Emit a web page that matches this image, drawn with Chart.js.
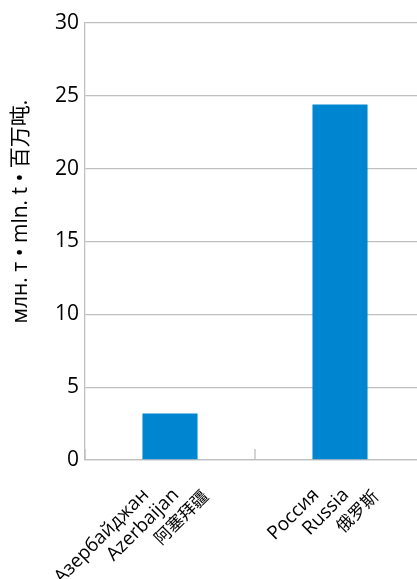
<!DOCTYPE html>
<html>
<head>
<meta charset="utf-8">
<script src="https://cdn.jsdelivr.net/npm/chart.js@4"></script>
<style>
  html, body { margin: 0; padding: 0; background: #fff; overflow: hidden; }
  #wrap { width: 425px; height: 579px; }
</style>
</head>
<body>
<div id="wrap"><canvas id="myChart"></canvas></div>
<script>
// data
var countries = [
    ["Азербайджан", "Azerbaijan", "阿塞拜疆"],
    ["Россия", "Russia", "俄罗斯"]
];
var volumes = [3.2, 24.4];
var yTitle = "млн. т • mln. t • 百万吨.";
var yMin = 0, yMax = 30, yStep = 5;

var FONT = "'Open Sans', 'Noto Sans CJK SC', sans-serif";
var GRID = "#bfbfbf";

// tick marks between categories, pointing up into the plot
var innerTicks = {
    id: 'innerTicks',
    afterDatasetsDraw: function(chart) {
        var ctx = chart.ctx, x = chart.scales.x, area = chart.chartArea;
        ctx.save();
        ctx.strokeStyle = GRID;
        ctx.lineWidth = 1.3;
        for (var i = 0; i <= countries.length; i++) {
            var px;
            if (i == 0) px = area.left;
            else if (i == countries.length) px = area.right;
            else px = (x.getPixelForValue(i - 1) + x.getPixelForValue(i)) / 2;
            ctx.beginPath();
            ctx.moveTo(px, area.bottom - 11);
            ctx.lineTo(px, area.bottom);
            ctx.stroke();
        }
        ctx.restore();
    }
};

// rotated three-line category labels and the y axis title
var labelsPlugin = {
    id: 'labelsPlugin',
    afterDraw: function(chart) {
        var ctx = chart.ctx, x = chart.scales.x, area = chart.chartArea;
        ctx.save();
        ctx.fillStyle = "#000";
        ctx.textAlign = "right";
        ctx.textBaseline = "middle";
        countries.forEach(function(lines, i) {
            var cx = x.getPixelForValue(i);
            lines.forEach(function(txt, j) {
                ctx.save();
                ctx.translate(cx - 24 + 30 * j, area.bottom + 32 + (j == 2 ? 2 : 0));
                ctx.rotate(-Math.PI / 4);
                ctx.font = (j == 2 ? "17px " : "19px ") + FONT;
                ctx.fillText(txt, 0, 0);
                ctx.restore();
            });
        });
        // axis title
        ctx.save();
        ctx.translate(21, (area.top + area.bottom) / 2 - 30);
        ctx.rotate(-Math.PI / 2);
        ctx.textAlign = "center";
        ctx.font = "21px " + FONT;
        ctx.fillText(yTitle, 0, 0);
        ctx.restore();
        ctx.restore();
    }
};

var ctx = document.getElementById("myChart").getContext("2d");
var myChart = new Chart(ctx, {
    type: 'bar',
    data: {
        labels: countries,
        datasets: [{
            data: volumes,
            backgroundColor: "#0085d0",
            barPercentage: 0.324,
            categoryPercentage: 1
        }]
    },
    options: {
        responsive: true,
        maintainAspectRatio: false,
        animation: false,
        layout: { padding: { top: 23, right: 0, left: 0, bottom: 0 } },
        plugins: { legend: { display: false }, tooltip: { enabled: false } },
        scales: {
            x: {
                ticks: { display: false },
                grid: { display: false },
                border: { color: GRID, width: 1.3 },
                afterFit: function(s) { s.height = 119; }
            },
            y: {
                min: yMin, max: yMax,
                ticks: { stepSize: yStep, color: "#000", padding: 6, font: { family: FONT, size: 21 } },
                grid: { color: GRID, lineWidth: 1.3, drawTicks: false },
                border: { color: GRID, width: 1.3 },
                afterFit: function(s) { s.width = 85; }
            }
        }
    },
    plugins: [innerTicks, labelsPlugin]
});
</script>
</body>
</html>
